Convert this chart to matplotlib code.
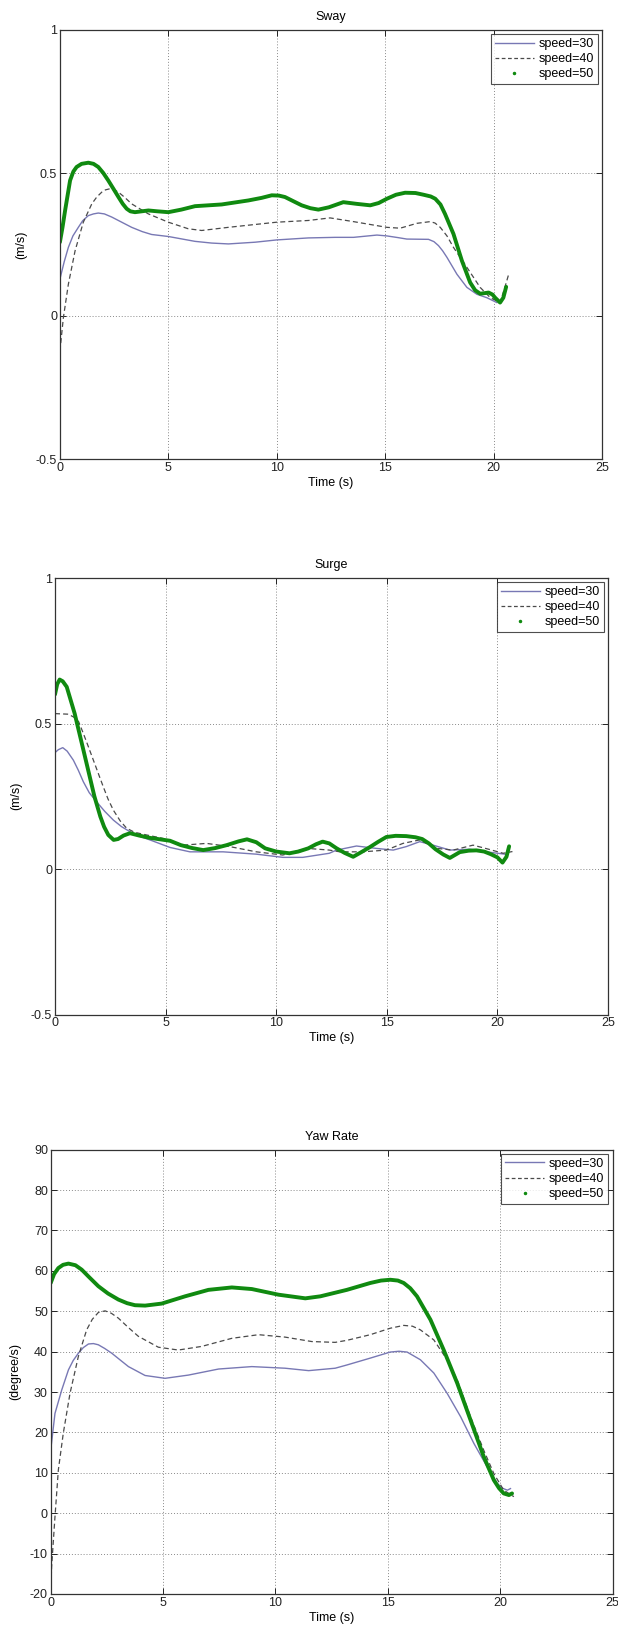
import matplotlib
matplotlib.use("Agg")
import matplotlib.pyplot as plt
from matplotlib.lines import Line2D

plt.rcParams['font.family'] = ['Liberation Sans', 'DejaVu Sans']

# ---------------- Data ----------------
labels = ["speed=30", "speed=40", "speed=50"]
x_label = "Time (s)"
x_ticks = [0, 5, 10, 15, 20, 25]

# Sway
sway_title = "Sway"
sway_ylabel = "(m/s)"
sway_yticks = [-0.5, 0, 0.5, 1]
sway_yticklabels = ["-0.5", "0", "0.5", "1"]
sway30_t = [0, 0.2, 0.39, 0.6, 0.85, 1.05, 1.31, 1.55, 1.77, 2.05, 2.39, 2.85, 3.31, 3.8, 4.23, 5.0,
            6.23, 7.0, 7.77, 9.0, 10.0, 11.46, 12.69, 13.54, 14.62, 15.08, 15.6, 16.0, 17.0, 17.25,
            17.46, 17.65, 17.85, 18.31, 18.77, 19.23, 19.69, 20.15]
sway30_v = [0.129, 0.19, 0.24, 0.28, 0.31, 0.333, 0.351, 0.357, 0.36, 0.357, 0.346, 0.328, 0.31, 0.295,
            0.285, 0.278, 0.261, 0.255, 0.252, 0.258, 0.266, 0.273, 0.275, 0.275, 0.283, 0.28, 0.274,
            0.269, 0.268, 0.26, 0.246, 0.228, 0.205, 0.146, 0.10, 0.076, 0.064, 0.047]
sway40_t = [0, 0.16, 0.39, 0.70, 1.08, 1.47, 1.7, 1.93, 2.1, 2.31, 2.5, 2.70, 3.0, 3.31, 4.08, 5.0,
            5.92, 6.54, 7.77, 9.0, 10.0, 11.46, 12.46, 13.54, 15.08, 15.69, 16.1, 16.46, 17.08, 17.3,
            17.54, 17.85, 18.15, 18.77, 19.38, 19.85, 20.3, 20.52, 20.72]
sway40_v = [-0.123, -0.006, 0.111, 0.228, 0.328, 0.392, 0.416, 0.433, 0.441, 0.445, 0.441, 0.433, 0.414,
            0.392, 0.357, 0.328, 0.305, 0.299, 0.31, 0.32, 0.328, 0.334, 0.343, 0.33, 0.31, 0.307,
            0.316, 0.324, 0.33, 0.325, 0.31, 0.28, 0.24, 0.17, 0.10, 0.064, 0.047, 0.10, 0.152]
sway50_t = [0, 0.12, 0.24, 0.47, 0.62, 0.77, 1.0, 1.31, 1.55, 1.77, 2.0, 2.23, 2.45, 2.70, 2.9, 3.08,
            3.25, 3.46, 4.08, 4.5, 5.0, 5.6, 6.23, 7.46, 8.69, 9.3, 9.77, 10.1, 10.38, 10.75, 11.15,
            11.55, 11.92, 12.4, 13.07, 13.7, 14.31, 14.7, 15.08, 15.5, 15.92, 16.4, 16.77, 17.1,
            17.31, 17.55, 17.76, 18.15, 18.54, 18.92, 19.15, 19.38, 19.6, 19.77, 19.95, 20.07, 20.3,
            20.45, 20.58]
sway50_v = [0.258, 0.31, 0.369, 0.474, 0.505, 0.521, 0.532, 0.536, 0.532, 0.521, 0.50, 0.474, 0.447,
            0.416, 0.392, 0.375, 0.366, 0.363, 0.369, 0.366, 0.363, 0.372, 0.384, 0.39, 0.404, 0.413,
            0.422, 0.421, 0.416, 0.402, 0.387, 0.377, 0.372, 0.38, 0.398, 0.392, 0.387, 0.395, 0.41,
            0.424, 0.431, 0.43, 0.424, 0.418, 0.41, 0.39, 0.357, 0.287, 0.193, 0.117, 0.09, 0.078,
            0.08, 0.082, 0.075, 0.064, 0.047, 0.064, 0.102]

# Surge
surge_title = "Surge"
surge_ylabel = "(m/s)"
surge_yticks = [-0.5, 0, 0.5, 1]
surge_yticklabels = ["-0.5", "0", "0.5", "1"]
surge30_t = [0, 0.15, 0.35, 0.55, 0.83, 1.05, 1.28, 1.55, 1.88, 2.25, 2.64, 3.0, 3.39, 3.8, 4.29,
             5.2, 6.1, 7.6, 9.1, 10.3, 11.2, 12.4, 12.73, 13.63, 14.5, 15.29, 15.88, 16.49, 17.09,
             17.85, 18.75, 19.5, 20.33]
surge30_v = [0.40, 0.41, 0.417, 0.405, 0.374, 0.34, 0.30, 0.262, 0.231, 0.198, 0.168, 0.146, 0.128,
             0.113, 0.10, 0.074, 0.059, 0.059, 0.051, 0.04, 0.04, 0.054, 0.065, 0.079, 0.071, 0.065,
             0.077, 0.094, 0.082, 0.065, 0.068, 0.059, 0.051]
surge40_t = [0, 0.6, 0.85, 1.07, 1.28, 1.51, 1.73, 1.95, 2.18, 2.4, 2.64, 2.95, 3.24, 3.6, 4.14,
             4.89, 5.8, 6.85, 7.9, 9.1, 10.3, 11.37, 12.4, 12.88, 13.9, 14.98, 15.73, 16.49, 17.24,
             18.0, 18.9, 19.65, 20.26, 20.68]
surge40_v = [0.534, 0.532, 0.522, 0.506, 0.466, 0.42, 0.375, 0.33, 0.283, 0.24, 0.202, 0.165, 0.14,
             0.126, 0.117, 0.105, 0.082, 0.088, 0.077, 0.059, 0.048, 0.071, 0.065, 0.059, 0.059, 0.065,
             0.088, 0.10, 0.071, 0.065, 0.082, 0.067, 0.054, 0.06]
surge50_t = [0, 0.1, 0.21, 0.35, 0.53, 0.89, 1.28, 1.78, 2.05, 2.22, 2.41, 2.65, 2.85, 3.1, 3.39,
             3.8, 4.29, 5.2, 5.69, 6.2, 6.7, 7.25, 7.76, 8.3, 8.68, 9.1, 9.5, 10.0, 10.6, 11.0, 11.45,
             11.8, 12.1, 12.4, 12.73, 13.1, 13.48, 13.85, 14.23, 14.6, 14.98, 15.4, 15.88, 16.3, 16.6,
             16.9, 17.2, 17.55, 17.85, 18.3, 18.7, 19.05, 19.4, 19.7, 20.0, 20.23, 20.41, 20.53]
surge50_v = [0.60, 0.635, 0.651, 0.645, 0.626, 0.534, 0.41, 0.25, 0.18, 0.145, 0.117, 0.10, 0.103,
             0.115, 0.123, 0.115, 0.107, 0.097, 0.082, 0.072, 0.065, 0.072, 0.082, 0.095, 0.102, 0.092,
             0.071, 0.06, 0.054, 0.06, 0.071, 0.085, 0.094, 0.088, 0.071, 0.055, 0.042, 0.058, 0.075,
             0.093, 0.11, 0.114, 0.113, 0.109, 0.103, 0.088, 0.068, 0.05, 0.038, 0.058, 0.063, 0.064,
             0.06, 0.051, 0.04, 0.022, 0.042, 0.078]

# Yaw rate
yaw_title = "Yaw Rate"
yaw_ylabel = "(degree/s)"
yaw_yticks = [-20, -10, 0, 10, 20, 30, 40, 50, 60, 70, 80, 90]
yaw_yticklabels = [str(v) for v in yaw_yticks]
yaw30_t = [0, 0.19, 0.49, 0.79, 1.0, 1.23, 1.45, 1.68, 1.9, 2.12, 2.4, 2.72, 3.1, 3.46, 4.2, 5.09,
           6.13, 7.47, 8.95, 10.43, 11.48, 12.66, 13.18, 14.22, 15.11, 15.5, 15.86, 16.45, 17.05,
           17.64, 18.24, 18.83, 19.42, 19.87, 20.1, 20.32, 20.46]
yaw30_v = [15.6, 24.7, 30.5, 35.5, 37.8, 39.6, 41.0, 41.9, 42.0, 41.7, 40.8, 39.6, 37.9, 36.3, 34.1,
           33.4, 34.2, 35.7, 36.3, 35.9, 35.3, 35.9, 36.7, 38.4, 39.9, 40.1, 39.9, 38.0, 34.7, 29.7,
           23.9, 17.3, 11.5, 7.4, 6.2, 5.7, 6.1]
yaw40_t = [0, 0.04, 0.19, 0.34, 0.56, 0.86, 1.23, 1.6, 1.85, 2.12, 2.42, 2.7, 3.01, 3.45, 3.9, 4.79,
           5.68, 6.72, 8.06, 9.25, 10.43, 11.62, 12.66, 13.18, 14.22, 15.11, 15.71, 16.1, 16.45, 17.05,
           17.64, 18.09, 18.68, 19.27, 19.72, 20.16, 20.61]
yaw40_v = [-19.9, -13.3, -0.9, 10.7, 19.8, 29.7, 38.8, 45.4, 48.0, 49.7, 50.1, 49.5, 48.3, 46.0,
           43.8, 41.1, 40.4, 41.3, 43.3, 44.2, 43.6, 42.5, 42.3, 42.8, 44.2, 45.8, 46.5, 46.3, 45.4,
           42.9, 38.0, 33.0, 23.9, 15.6, 9.8, 5.7, 4.1]
yaw50_t = [0, 0.15, 0.34, 0.55, 0.79, 1.1, 1.38, 1.7, 2.12, 2.55, 3.01, 3.4, 3.75, 4.2, 4.94, 5.98,
           7.02, 8.06, 8.95, 10.14, 11.33, 12.0, 13.18, 14.22, 14.7, 15.11, 15.45, 15.71, 16.0, 16.3,
           16.9, 17.49, 18.09, 18.68, 19.27, 19.72, 19.95, 20.16, 20.39, 20.53]
yaw50_v = [57.0, 59.2, 60.7, 61.5, 61.8, 61.4, 60.3, 58.5, 56.2, 54.4, 52.9, 52.0, 51.5, 51.4, 51.9,
           53.7, 55.3, 55.9, 55.5, 54.1, 53.2, 53.7, 55.3, 57.0, 57.6, 57.8, 57.6, 57.0, 55.7, 53.7,
           47.9, 40.4, 32.2, 23.1, 14.0, 8.2, 6.2, 4.9, 4.5, 4.9]

# ---------------- Styling ----------------
c30 = '#7878b4'
c40 = '#4a4a4a'
c50 = '#108a10'
FS = 9

fig = plt.figure(figsize=(6.18, 16.32), dpi=100)
H, W = 1632.0, 618.0


def make_ax(left, right, top, bottom):
    return fig.add_axes([left / W, (H - bottom) / H, (right - left) / W, (bottom - top) / H])


def style(ax, title, ylabel, yticks, yticklabels, ylim):
    ax.set_xlim(0, 25)
    ax.set_ylim(*ylim)
    ax.set_xticks(x_ticks)
    ax.set_xticklabels([str(t) for t in x_ticks])
    ax.set_yticks(yticks)
    ax.set_yticklabels(yticklabels)
    ax.grid(True, linestyle=(0, (1, 2)), color='#8a8a8a', linewidth=0.7)
    ax.tick_params(direction='in', length=4, width=0.7, top=True, right=True,
                   labelsize=FS, pad=2, colors='#222222')
    for s in ax.spines.values():
        s.set_color('#333333')
        s.set_linewidth(0.9)
    ax.set_title(title, fontsize=FS, pad=7)
    ax.set_xlabel(x_label, fontsize=FS, labelpad=2)
    ax.set_ylabel(ylabel, fontsize=FS, labelpad=6)
    handles = [Line2D([], [], color=c30, lw=1.0),
               Line2D([], [], color=c40, lw=0.9, dashes=(3, 2)),
               Line2D([], [], color=c50, marker='.', markersize=3, linestyle='none')]
    leg = ax.legend(handles, labels, loc='upper right', fontsize=FS, frameon=True, fancybox=False,
                    edgecolor='#222222', handlelength=3.1, handletextpad=0.4, labelspacing=0.25,
                    borderpad=0.3, borderaxespad=0.35, markerfirst=True)
    leg.get_frame().set_linewidth(0.8)


def draw(ax, t30, v30, t40, v40, t50, v50):
    ax.plot(t30, v30, color=c30, lw=1.0, solid_joinstyle='round')
    ax.plot(t40, v40, color=c40, lw=0.9, dashes=(4, 2.5))
    ax.plot(t50, v50, color=c50, lw=2.8, solid_capstyle='round', solid_joinstyle='round')


ax1 = make_ax(59.9, 602, 30, 459)
draw(ax1, sway30_t, sway30_v, sway40_t, sway40_v, sway50_t, sway50_v)
style(ax1, sway_title, sway_ylabel, sway_yticks, sway_yticklabels, (-0.5, 1))

ax2 = make_ax(55, 608, 578, 1014.5)
draw(ax2, surge30_t, surge30_v, surge40_t, surge40_v, surge50_t, surge50_v)
style(ax2, surge_title, surge_ylabel, surge_yticks, surge_yticklabels, (-0.5, 1))

ax3 = make_ax(50.7, 612.5, 1149.7, 1594)
draw(ax3, yaw30_t, yaw30_v, yaw40_t, yaw40_v, yaw50_t, yaw50_v)
style(ax3, yaw_title, yaw_ylabel, yaw_yticks, yaw_yticklabels, (-20, 90))

fig.savefig("out.png", dpi=100, facecolor='white')
